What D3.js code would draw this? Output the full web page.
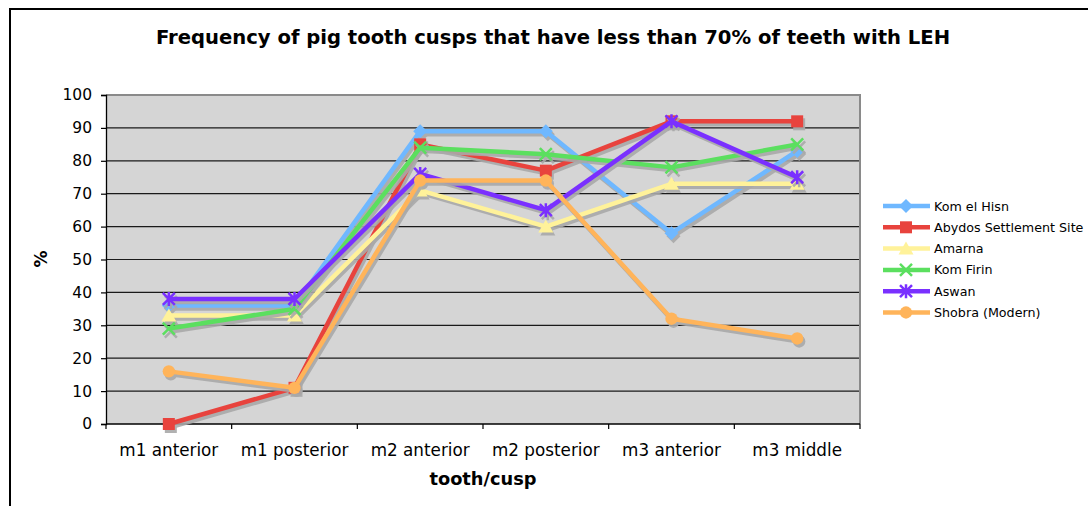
<!DOCTYPE html>
<html><head><meta charset="utf-8">
<script src="https://cdn.jsdelivr.net/npm/d3@7"></script>
<style>body{margin:0;background:#fff}svg{display:block}text{font-family:"DejaVu Sans",Verdana,sans-serif}</style>
</head><body><svg id="c" width="1088" height="506"></svg>
<script>
const categories = ["m1 anterior","m1 posterior","m2 anterior","m2 posterior","m3 anterior","m3 middle"];
const seriesNames = ["Kom el Hisn","Abydos Settlement Site","Amarna","Kom Firin","Aswan","Shobra (Modern)"];
const komElHisn = [36,36,89,89,58,83];
const abydos = [0,11,85,77,92,92];
const amarna = [33,33,71,60,73,73];
const komFirin = [29,35,84,82,78,85];
const aswan = [38,38,76,65,92,75];
const shobra = [16,11,74,74,32,26];
const yTicks = [0,10,20,30,40,50,60,70,80,90,100];
const colors = ["#6fb8ff","#e8433d","#fff29a","#5bdf5f","#7a30ff","#ffb45a"];
const markers = ["diamond","square","triangle","x","star","circle"];
const seriesValues = [komElHisn,abydos,amarna,komFirin,aswan,shobra];

const svg = d3.select("#c");
const L=106,R=860,T=95,B=424;
const x = d3.scaleBand().domain(categories).range([L,R]);
const y = d3.scaleLinear().domain([0,100]).range([B,T]);

svg.append("rect").attr("x",10).attr("y",9).attr("width",1200).attr("height",600)
  .attr("fill","none").attr("stroke","#000").attr("stroke-width",2);

svg.append("rect").attr("x",L).attr("y",T).attr("width",R-L).attr("height",B-T).attr("fill","#d5d5d5");
svg.append("g").selectAll("line").data(yTicks.filter(d=>d>0&&d<100)).join("line")
  .attr("x1",L).attr("x2",R).attr("y1",d=>y(d)).attr("y2",d=>y(d)).attr("stroke","#1a1a1a").attr("stroke-width",1.2);
svg.append("path").attr("d",`M${L},${T}H${R}V${B}`).attr("fill","none").attr("stroke","#8a8a8a").attr("stroke-width",2);

const yAxis = d3.axisLeft(y).tickValues(yTicks).tickSize(5).tickPadding(9);
const gy = svg.append("g").attr("transform",`translate(${L},0)`).call(yAxis);
gy.select(".domain").attr("stroke","#000").attr("stroke-width",1.3);
gy.selectAll(".tick line").attr("stroke","#000").attr("stroke-width",1.2);
gy.selectAll("text").attr("font-size",15.5).attr("fill","#000").style("font-family","DejaVu Sans");

const gx = svg.append("g").attr("transform",`translate(0,${B})`);
gx.append("line").attr("x1",L).attr("x2",R).attr("stroke","#000").attr("stroke-width",1.3);
const bounds = d3.range(categories.length+1).map(i=>L+i*x.bandwidth());
gx.selectAll(".tk").data(bounds).join("line").attr("class","tk")
  .attr("x1",d=>d).attr("x2",d=>d).attr("y1",0).attr("y2",5).attr("stroke","#000").attr("stroke-width",1.2);
gx.selectAll(".lb").data(categories).join("text").attr("class","lb")
  .attr("x",d=>x(d)+x.bandwidth()/2).attr("y",32).attr("text-anchor","middle")
  .attr("font-size",16.8).text(d=>d);

svg.append("text").attr("x",553).attr("y",44).attr("text-anchor","middle").attr("font-weight","bold")
  .attr("font-size",19.6).text("Frequency of pig tooth cusps that have less than 70% of teeth with LEH");
svg.append("text").attr("x",483).attr("y",485).attr("text-anchor","middle").attr("font-weight","bold")
  .attr("font-size",17.8).text("tooth/cusp");
svg.append("text").attr("transform","translate(47,259) rotate(-90)").attr("text-anchor","middle").attr("font-weight","bold")
  .attr("font-size",17).text("%");

function markerPath(type){
  switch(type){
    case "diamond": return "M0,-7L7,0L0,7L-7,0Z";
    case "square": return "M-6,-6H6V6H-6Z";
    case "triangle": return "M0,-7L7.5,6H-7.5Z";
    case "circle": return d3.symbol(d3.symbolCircle,120)();
    case "x": return "M-6,-6L6,6M-6,6L6,-6";
    case "star": return "M-6,-6L6,6M-6,6L6,-6M0,-7V7";
  }
}
function drawMarker(g,type,color,px,py){
  const p = g.append("path").attr("d",markerPath(type)).attr("transform",`translate(${px},${py})`);
  if(type==="x"||type==="star") p.attr("fill","none").attr("stroke",color).attr("stroke-width",2.5);
  else p.attr("fill",color);
  return p;
}
const line = d3.line().x((d,i)=>x(categories[i])+x.bandwidth()/2).y(d=>y(d));
const plot = svg.append("g");
seriesValues.forEach((vals,si)=>{
  const g = plot.append("g");
  const sh = g.append("g").attr("transform","translate(2,3)").attr("opacity",0.9);
  sh.append("path").attr("d",line(vals)).attr("fill","none").attr("stroke","#a9a9a9").attr("stroke-width",4.5).attr("stroke-linejoin","round");
  vals.forEach((v,i)=>drawMarker(sh,markers[si],"#a9a9a9",x(categories[i])+x.bandwidth()/2,y(v)));
  g.append("path").attr("d",line(vals)).attr("fill","none").attr("stroke",colors[si]).attr("stroke-width",4.5).attr("stroke-linejoin","round");
  vals.forEach((v,i)=>drawMarker(g,markers[si],colors[si],x(categories[i])+x.bandwidth()/2,y(v)));
});

const lg = svg.append("g");
seriesNames.forEach((n,i)=>{
  const yy = 206+i*21.3;
  lg.append("line").attr("x1",883).attr("x2",930).attr("y1",yy).attr("y2",yy).attr("stroke",colors[i]).attr("stroke-width",4.5);
  drawMarker(lg,markers[i],colors[i],906,yy);
  lg.append("text").attr("x",934).attr("y",yy+4.5).attr("font-size",12.7).text(n);
});
</script></body></html>
